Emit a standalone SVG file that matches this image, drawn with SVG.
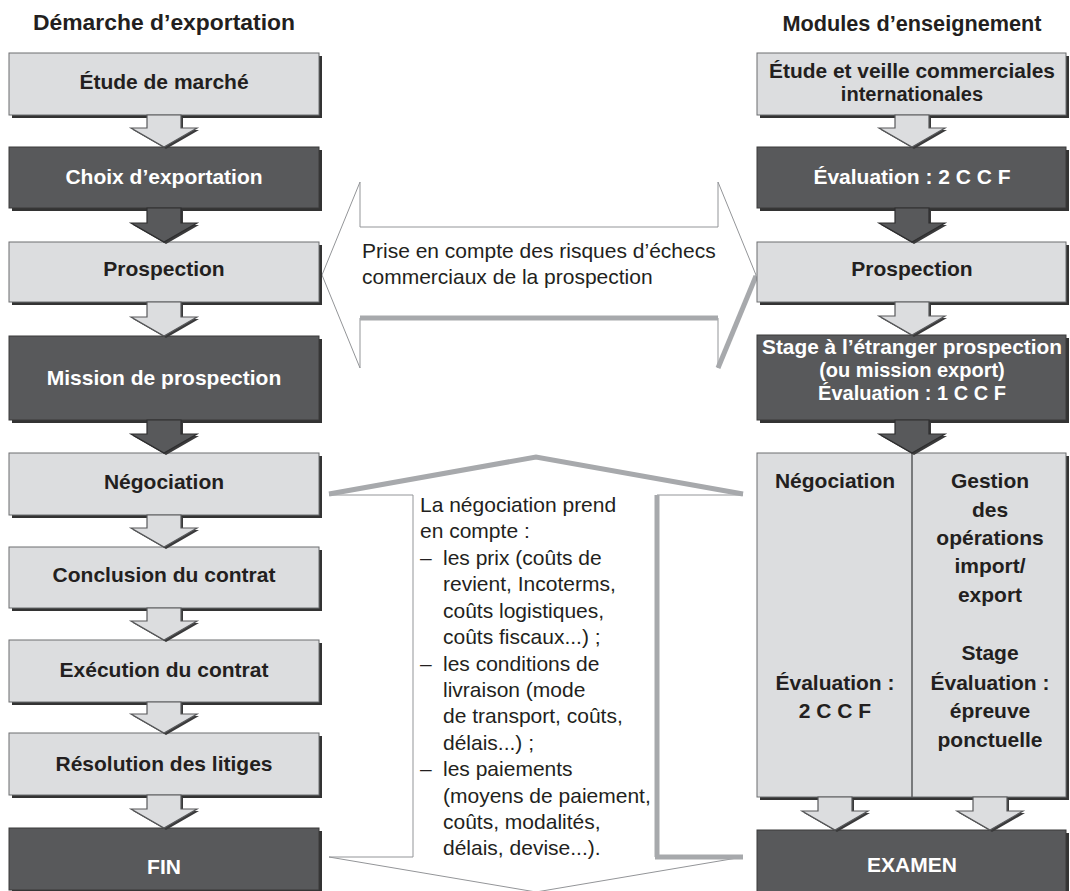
<svg xmlns="http://www.w3.org/2000/svg" width="1070" height="891" viewBox="0 0 1070 891">
<style>
.bg{fill:#ffffff}
.sh{fill:#333333}
.lbox{fill:#dcdddf;stroke:#6d6e71;stroke-width:1}
.dbox{fill:#58595b;stroke:#3a3a3b;stroke-width:1}
.larr{fill:#dcdddf;stroke:#58595b;stroke-width:1.2;stroke-linejoin:miter}
.darr{fill:#58595b;stroke:#2e2e2f;stroke-width:1.2}
.ash{fill:#3a3a3b}
.hd{font-family:"Liberation Sans",Arial,sans-serif;font-weight:bold;font-size:22px;fill:#231f20;text-anchor:middle}
.bt{font-family:"Liberation Sans",Arial,sans-serif;font-weight:bold;font-size:21px;fill:#231f20;text-anchor:middle}
.wt{font-family:"Liberation Sans",Arial,sans-serif;font-weight:bold;font-size:21px;fill:#ffffff;text-anchor:middle}
.sm{font-size:20px}
.nt{font-family:"Liberation Sans",Arial,sans-serif;font-size:21px;fill:#231f20}
.big{fill:#ffffff;stroke:#939598;stroke-width:1}
.bigsh{fill:none;stroke:#a7a9ac;stroke-width:5;stroke-linecap:butt}
.div{stroke:#58595b;stroke-width:1.5}
</style>
<rect class="bg" x="0" y="0" width="1070" height="891"/>

<g id="headers">
<text class="hd" x="164" y="30" textLength="262" lengthAdjust="spacingAndGlyphs">Démarche d’exportation</text>
<text class="hd" x="912" y="31" textLength="259" lengthAdjust="spacingAndGlyphs">Modules d’enseignement</text>
</g>

<g id="note-risques">
<polygon class="big" points="322,275 360,182 360,227 718,227 718,182 756,275 718,368 718,318 360,318 360,368"/>
<line class="bigsh" x1="360" y1="318" x2="718" y2="318"/>
<line class="bigsh" x1="756" y1="276" x2="718" y2="368"/>
<text class="nt" x="362" y="258">Prise en compte des risques d’échecs</text>
<text class="nt" x="362" y="284">commerciaux de la prospection</text>
</g>

<g id="note-negociation">
<polygon class="big" points="536,458 743,495 657,495 657,857 743,857 536,892 329,857 413,857 413,495 329,495"/>
<polyline class="bigsh" points="329,494 536,457 743,494"/>
<line class="bigsh" x1="657" y1="495" x2="657" y2="857"/>
<line class="bigsh" x1="655" y1="857" x2="743" y2="857"/>
<text class="nt" x="420" y="512">La négociation prend</text>
<text class="nt" x="420" y="538">en compte :</text>
<text class="nt" y="565"><tspan x="420">–</tspan><tspan x="443">les prix (coûts de</tspan></text>
<text class="nt" x="443" y="591">revient, Incoterms,</text>
<text class="nt" x="443" y="618">coûts logistiques,</text>
<text class="nt" x="443" y="644">coûts fiscaux...) ;</text>
<text class="nt" y="671"><tspan x="420">–</tspan><tspan x="443">les conditions de</tspan></text>
<text class="nt" x="443" y="697">livraison (mode</text>
<text class="nt" x="443" y="723">de transport, coûts,</text>
<text class="nt" x="443" y="750">délais...) ;</text>
<text class="nt" y="776"><tspan x="420">–</tspan><tspan x="443">les paiements</tspan></text>
<text class="nt" x="443" y="803">(moyens de paiement,</text>
<text class="nt" x="443" y="829">coûts, modalités,</text>
<text class="nt" x="443" y="855">délais, devise...).</text>
</g>

<!-- Left column -->
<g id="etude-marche">
<rect class="sh" x="12" y="56" width="310" height="62"/>
<rect class="lbox" x="9" y="53" width="310" height="62"/>
<text class="bt" x="164" y="89">Étude de marché</text>
</g>
<g id="choix-exportation">
<rect class="sh" x="12" y="150" width="310" height="61"/>
<rect class="dbox" x="9" y="147" width="310" height="61"/>
<text class="wt" x="164" y="184">Choix d’exportation</text>
</g>
<g id="prospection-gauche">
<rect class="sh" x="12" y="245" width="310" height="60"/>
<rect class="lbox" x="9" y="242" width="310" height="60"/>
<text class="bt" x="164" y="276">Prospection</text>
</g>
<g id="mission-prospection">
<rect class="sh" x="12" y="339" width="310" height="84"/>
<rect class="dbox" x="9" y="336" width="310" height="84"/>
<text class="wt" x="164" y="385">Mission de prospection</text>
</g>
<g id="negociation-gauche">
<rect class="sh" x="12" y="456" width="310" height="62"/>
<rect class="lbox" x="9" y="453" width="310" height="62"/>
<text class="bt" x="164" y="489">Négociation</text>
</g>
<g id="conclusion-contrat">
<rect class="sh" x="12" y="550" width="310" height="61"/>
<rect class="lbox" x="9" y="547" width="310" height="61"/>
<text class="bt" x="164" y="582">Conclusion du contrat</text>
</g>
<g id="execution-contrat">
<rect class="sh" x="12" y="643" width="310" height="62"/>
<rect class="lbox" x="9" y="640" width="310" height="62"/>
<text class="bt" x="164" y="677">Exécution du contrat</text>
</g>
<g id="resolution-litiges">
<rect class="sh" x="12" y="736" width="310" height="62"/>
<rect class="lbox" x="9" y="733" width="310" height="62"/>
<text class="bt" x="164" y="771">Résolution des litiges</text>
</g>
<g id="fin">
<rect class="sh" x="12" y="831" width="310" height="62"/>
<rect class="dbox" x="9" y="828" width="310" height="62"/>
<text class="wt" x="164" y="874">FIN</text>
</g>

<!-- Right column -->
<g id="etude-veille">
<rect class="sh" x="760" y="56" width="309" height="62"/>
<rect class="lbox" x="757" y="53" width="309" height="62"/>
<text class="bt" x="912" y="78" textLength="286" lengthAdjust="spacingAndGlyphs">Étude et veille commerciales</text>
<text class="bt sm" x="912" y="101">internationales</text>
</g>
<g id="evaluation-2ccf">
<rect class="sh" x="760" y="150" width="309" height="61"/>
<rect class="dbox" x="757" y="147" width="309" height="61"/>
<text class="wt" x="912" y="184">Évaluation : 2 C C F</text>
</g>
<g id="prospection-droite">
<rect class="sh" x="760" y="245" width="309" height="60"/>
<rect class="lbox" x="757" y="242" width="309" height="60"/>
<text class="bt" x="912" y="276">Prospection</text>
</g>
<g id="stage-etranger">
<rect class="sh" x="760" y="338" width="309" height="85"/>
<rect class="dbox" x="757" y="335" width="309" height="85"/>
<text class="wt sm" x="912" y="354" textLength="300" lengthAdjust="spacingAndGlyphs">Stage à l’étranger prospection</text>
<text class="wt sm" x="912" y="377">(ou mission export)</text>
<text class="wt sm" x="912" y="400">Évaluation : 1 C C F</text>
</g>
<g id="modules-negociation-gestion">
<rect class="sh" x="760" y="456" width="309" height="344"/>
<rect class="lbox" x="757" y="453" width="309" height="344"/>
<line class="div" x1="912" y1="453" x2="912" y2="797"/>
<text class="bt" x="835" y="488">Négociation</text>
<text class="bt" x="835" y="690">Évaluation :</text>
<text class="bt" x="835" y="718">2 C C F</text>
<text class="bt" x="990" y="488">Gestion</text>
<text class="bt" x="990" y="517">des</text>
<text class="bt" x="990" y="545">opérations</text>
<text class="bt" x="990" y="573">import/</text>
<text class="bt" x="990" y="602">export</text>
<text class="bt" x="990" y="660">Stage</text>
<text class="bt" x="990" y="690">Évaluation :</text>
<text class="bt" x="990" y="718">épreuve</text>
<text class="bt" x="990" y="747">ponctuelle</text>
</g>
<g id="examen">
<rect class="sh" x="760" y="833" width="309" height="62"/>
<rect class="dbox" x="757" y="830" width="309" height="62"/>
<text class="wt" x="912" y="872">EXAMEN</text>
</g>

<g id="connectors">
<!-- left column -->
<path class="ash" d="M149,117 H183 V130 H199 L166,149 L133,130 H149 Z"/>
<path class="larr" d="M147,115 H181 V128 H197 L164,147 L131,128 H147 Z"/>
<path class="ash" d="M149,210 H183 V225 H199 L166,244 L133,225 H149 Z"/>
<path class="darr" d="M147,208 H181 V223 H197 L164,242 L131,223 H147 Z"/>
<path class="ash" d="M149,304 H183 V319 H199 L166,338 L133,319 H149 Z"/>
<path class="larr" d="M147,302 H181 V317 H197 L164,336 L131,317 H147 Z"/>
<path class="ash" d="M149,422 H183 V436 H199 L166,455 L133,436 H149 Z"/>
<path class="darr" d="M147,420 H181 V434 H197 L164,453 L131,434 H147 Z"/>
<path class="ash" d="M149,517 H183 V530 H199 L166,549 L133,530 H149 Z"/>
<path class="larr" d="M147,515 H181 V528 H197 L164,547 L131,528 H147 Z"/>
<path class="ash" d="M149,610 H183 V623 H199 L166,642 L133,623 H149 Z"/>
<path class="larr" d="M147,608 H181 V621 H197 L164,640 L131,621 H147 Z"/>
<path class="ash" d="M149,704 H183 V716 H199 L166,735 L133,716 H149 Z"/>
<path class="larr" d="M147,702 H181 V714 H197 L164,733 L131,714 H147 Z"/>
<path class="ash" d="M149,797 H183 V811 H199 L166,830 L133,811 H149 Z"/>
<path class="larr" d="M147,795 H181 V809 H197 L164,828 L131,809 H147 Z"/>
<!-- right column -->
<path class="ash" d="M897,117 H931 V130 H947 L914,149 L881,130 H897 Z"/>
<path class="larr" d="M895,115 H929 V128 H945 L912,147 L879,128 H895 Z"/>
<path class="ash" d="M897,210 H931 V225 H947 L914,244 L881,225 H897 Z"/>
<path class="darr" d="M895,208 H929 V223 H945 L912,242 L879,223 H895 Z"/>
<path class="ash" d="M897,304 H931 V318 H947 L914,337 L881,318 H897 Z"/>
<path class="larr" d="M895,302 H929 V316 H945 L912,335 L879,316 H895 Z"/>
<path class="ash" d="M897,422 H931 V436 H947 L914,455 L881,436 H897 Z"/>
<path class="darr" d="M895,420 H929 V434 H945 L912,453 L879,434 H895 Z"/>
<path class="ash" d="M820,799 H854 V813 H870 L837,832 L804,813 H820 Z"/>
<path class="larr" d="M818,797 H852 V811 H868 L835,830 L802,811 H818 Z"/>
<path class="ash" d="M975,799 H1009 V813 H1025 L992,832 L959,813 H975 Z"/>
<path class="larr" d="M973,797 H1007 V811 H1023 L990,830 L957,811 H973 Z"/>
</g>
</svg>
